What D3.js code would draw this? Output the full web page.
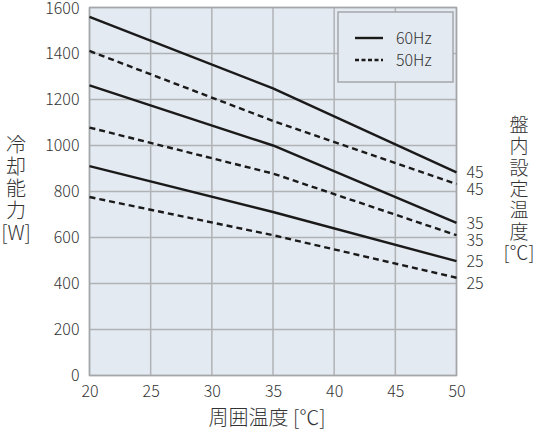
<!DOCTYPE html>
<html>
<head>
<meta charset="utf-8">
<script src="https://cdn.jsdelivr.net/npm/d3@7"></script>
<style>
  body { margin: 0; background: #fff; }
  text { font-family: "Noto Sans CJK JP", "Noto Sans", sans-serif; font-weight: 300; fill: #333; }
</style>
</head>
<body>
<div id="chart"></div>
<script>
// 周囲温度 [°C]
const ambient = [20, 35, 50];
// 盤内設定温度
const setTemps = [45, 35, 25];
// 冷却能力 [W]
const cap60 = [[1559, 1248, 883], [1261, 1000, 664], [910, 711, 497]];
const cap50 = [[1411, 1107, 832], [1078, 878, 610], [776, 610, 425]];
const xTicks = [20, 25, 30, 35, 40, 45, 50];
const yTicks = [0, 200, 400, 600, 800, 1000, 1200, 1400, 1600];
const legendItems = ["60Hz", "50Hz"];

const W = 536, H = 431;
const margin = { top: 7.5, right: 79.5, bottom: 55.5, left: 89.5 };
const w = W - margin.left - margin.right,
      h = H - margin.top - margin.bottom;

const svg = d3.select("#chart").append("svg")
    .attr("width", W)
    .attr("height", H);

const g = svg.append("g")
    .attr("transform", `translate(${margin.left},${margin.top})`);

const x = d3.scaleLinear().domain([20, 50]).range([0, w]);
const y = d3.scaleLinear().domain([0, 1600]).range([h, 0]);

// 背景
g.append("rect")
    .attr("width", w).attr("height", h)
    .attr("fill", "#e4eaf1");

// グリッド
g.selectAll("line.vgrid").data(xTicks).enter().append("line")
    .attr("x1", d => x(d)).attr("x2", d => x(d))
    .attr("y1", 0).attr("y2", h)
    .attr("stroke", "#b0b3b6").attr("stroke-width", 1.5);

g.selectAll("line.hgrid").data(yTicks).enter().append("line")
    .attr("x1", 0).attr("x2", w)
    .attr("y1", d => y(d)).attr("y2", d => y(d))
    .attr("stroke", "#b0b3b6").attr("stroke-width", 1.5);

// 枠
g.append("rect")
    .attr("width", w).attr("height", h)
    .attr("fill", "none")
    .attr("stroke", "#a4a7aa").attr("stroke-width", 1.5);

// 軸
const xAxis = g.append("g")
    .attr("transform", `translate(0,${h})`)
    .call(d3.axisBottom(x).tickValues(xTicks).tickSize(0).tickPadding(10));
xAxis.select(".domain").remove();
xAxis.selectAll("text").attr("font-size", 16).attr("fill", "#333");

const yAxis = g.append("g")
    .call(d3.axisLeft(y).tickValues(yTicks).tickFormat(d3.format("d")).tickSize(0).tickPadding(10));
yAxis.select(".domain").remove();
yAxis.selectAll("text").attr("font-size", 16).attr("fill", "#333");
yAxis.selectAll(".tick").filter(d => d === 1600).select("text").attr("dy", "0.4em");

// 線
const line = d3.line()
    .x((d, i) => x(ambient[i]))
    .y(d => y(d));

const series = [];
setTemps.forEach((t, i) => {
    series.push({ t: t, hz: "60Hz", values: cap60[i], dash: null, dy: 6 });
    series.push({ t: t, hz: "50Hz", values: cap50[i], dash: "6,4", dy: 11 });
});

g.selectAll("path.curve").data(series).enter().append("path")
    .attr("class", "curve")
    .attr("d", d => line(d.values))
    .attr("fill", "none")
    .attr("stroke", "#1a1a1a")
    .attr("stroke-width", 2.4)
    .attr("stroke-dasharray", d => d.dash);

// 右側ラベル
g.selectAll("text.setlabel").data(series).enter().append("text")
    .attr("x", w + 10)
    .attr("y", d => y(d.values[d.values.length - 1]) + d.dy)
    .attr("font-size", 16)
    .text(d => d.t);

// 凡例
const lg = g.append("g").attr("transform", `translate(${338 - margin.left},${12 - margin.top})`);
lg.append("rect")
    .attr("width", 115).attr("height", 70)
    .attr("fill", "#e4eaf1")
    .attr("stroke", "#a4a7aa").attr("stroke-width", 1.5);
legendItems.forEach((name, i) => {
    const ly = 26 + i * 22;
    lg.append("line")
        .attr("x1", 17).attr("x2", 45)
        .attr("y1", ly).attr("y2", ly)
        .attr("stroke", "#1a1a1a").attr("stroke-width", 2.4)
        .attr("stroke-dasharray", i === 0 ? null : "4,2.5");
    lg.append("text")
        .attr("x", 58).attr("y", ly + 6)
        .attr("font-size", 16)
        .text(name);
});

// 軸タイトル
svg.append("text")
    .attr("x", 267).attr("y", 425)
    .attr("text-anchor", "middle")
    .attr("font-size", 20)
    .text("周囲温度 [℃]");

// 縦書きタイトル (1文字ずつ tspan)
function verticalTitle(chars, cx, y0, step, size) {
    const t = svg.append("text")
        .attr("text-anchor", "middle")
        .attr("font-size", size);
    t.selectAll("tspan").data(chars).enter().append("tspan")
        .attr("x", cx)
        .attr("y", (d, i) => y0 + i * step)
        .text(d => d);
}

verticalTitle(["冷", "却", "能", "力", "[W]"], 16, 152, 22, 20);
verticalTitle(["盤", "内", "設", "定", "温", "度", "[℃]"], 519, 132, 21.3, 19);
</script>
</body>
</html>
